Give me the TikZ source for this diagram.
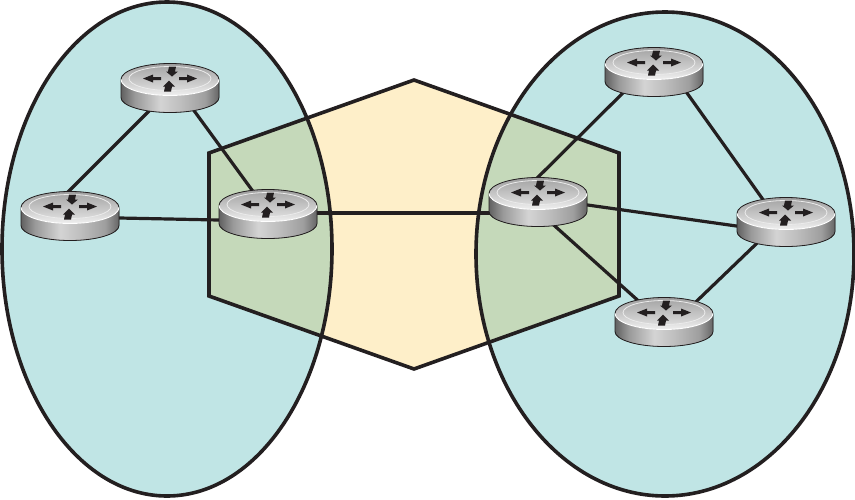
\documentclass[tikz,border=0pt]{standalone}
\definecolor{asblue}{HTML}{C0E5E5}
\definecolor{corecream}{HTML}{FEEFC9}
\definecolor{overlapgreen}{HTML}{C5D9BA}
\definecolor{edgeblack}{HTML}{231F20}
\pgfdeclarehorizontalshading{routerside}{100bp}{
  color(0bp)=(black!62); color(25bp)=(black!62); color(32bp)=(black!40);
  color(45bp)=(black!17); color(55bp)=(black!25); color(68bp)=(black!38);
  color(75bp)=(black!60); color(100bp)=(black!60)}
\tikzset{
  region/.style={draw=edgeblack,line width=3.6pt,line join=miter},
  link/.style={draw=edgeblack,line width=3.2pt},
  routerarrow/.style={draw=none,fill=edgeblack},
  router/.pic={
    \begin{scope}[shift={(0,-8.5)}]
    \fill[shading=routerside]
      (-49,0) -- (-49,18) arc[start angle=180,end angle=0,x radius=49,y radius=15] -- (49,0) -- cycle;
    \draw[draw=edgeblack,line width=0.8pt] (-49,0) -- (-49,18) arc[start angle=180,end angle=0,x radius=49,y radius=15] -- (49,0);
    \fill[top color=black!38,bottom color=black!6] (0,0) ellipse[x radius=49,y radius=16];
    \draw[draw=edgeblack,line width=0.8pt] (-49,0) arc[start angle=180,end angle=0,x radius=49,y radius=-16];
    \draw[draw=white,line width=0.9pt] (-49,0) arc[start angle=180,end angle=0,x radius=49,y radius=16];
    \draw[draw=black!8,top color=black!34,bottom color=black!14,line width=0.8pt] (0,-1) ellipse[x radius=41,y radius=12];
    \fill[routerarrow] (-27,-1) -- (-17,-5) -- (-17,-2.5) -- (-9,-2.5) -- (-9,0.5) -- (-17,0.5) -- (-17,3) -- cycle;
    \fill[routerarrow] (27,-1) -- (17,-5) -- (17,-2.5) -- (9,-2.5) -- (9,0.5) -- (17,0.5) -- (17,3) -- cycle;
    \fill[routerarrow] (2,-3) -- (-4,-8) -- (-2,-8) -- (-1,-13) -- (6,-13) -- (5,-8) -- (8,-8) -- cycle;
    \fill[routerarrow] (-1,1) -- (-7,7) -- (-5,7) -- (-6,12) -- (1,12) -- (2,7) -- (5,7) -- cycle;
    \end{scope}
  },
}

\begin{document}
\begin{tikzpicture}[x=1pt,y=-1pt]
\useasboundingbox (0,0) rectangle (855,499);
% areas
\fill[asblue] (167,249) ellipse[x radius=165,y radius=247];
\fill[asblue] (665,254) ellipse[x radius=189,y radius=242];
\fill[corecream] (414,80) -- (619,153) -- (619,296) -- (414,369) -- (209,296) -- (209,153) -- cycle;
\begin{scope}
\clip (414,80) -- (619,153) -- (619,296) -- (414,369) -- (209,296) -- (209,153) -- cycle;
\fill[overlapgreen] (167,249) ellipse[x radius=165,y radius=247];
\fill[overlapgreen] (665,254) ellipse[x radius=189,y radius=242];
\end{scope}
\draw[region] (414,80) -- (619,153) -- (619,296) -- (414,369) -- (209,296) -- (209,153) -- cycle;
\draw[region] (167,249) ellipse[x radius=165,y radius=247];
\draw[region] (665,254) ellipse[x radius=189,y radius=242];
% router positions
\coordinate (r1) at (170,88);
\coordinate (r2) at (70,216);
\coordinate (r3) at (268,214);
\coordinate (r4) at (538,202);
\coordinate (r5) at (654,72);
\coordinate (r6) at (786,222);
\coordinate (r7) at (664,322);
% links
\draw[link] ([xshift=2pt]r1) -- ([xshift=-26pt]r2);
\draw[link] ([xshift=7.5pt]r1) -- ([xshift=1.5pt]r3);
\draw[link] ([yshift=-1pt]r2) -- ([yshift=-7pt]r3);
\draw[link] ([yshift=1pt]r3) -- ([yshift=-11pt]r4);
\draw[link] ([xshift=-25pt]r4) -- ([xshift=-10pt]r5);
\draw[link] ([yshift=4pt]r4) -- ([yshift=-11pt]r6);
\draw[link] ([xshift=-10pt]r4) -- ([xshift=-2pt]r7);
\draw[link] ([xshift=18pt]r5) -- ([xshift=-7pt]r6);
\draw[link] ([xshift=-7pt]r6) -- ([xshift=11pt]r7);
% routers
\foreach \r in {r1,r2,r3,r4,r5,r6,r7}
  \pic at (\r) {router};
\end{tikzpicture}
\end{document}
